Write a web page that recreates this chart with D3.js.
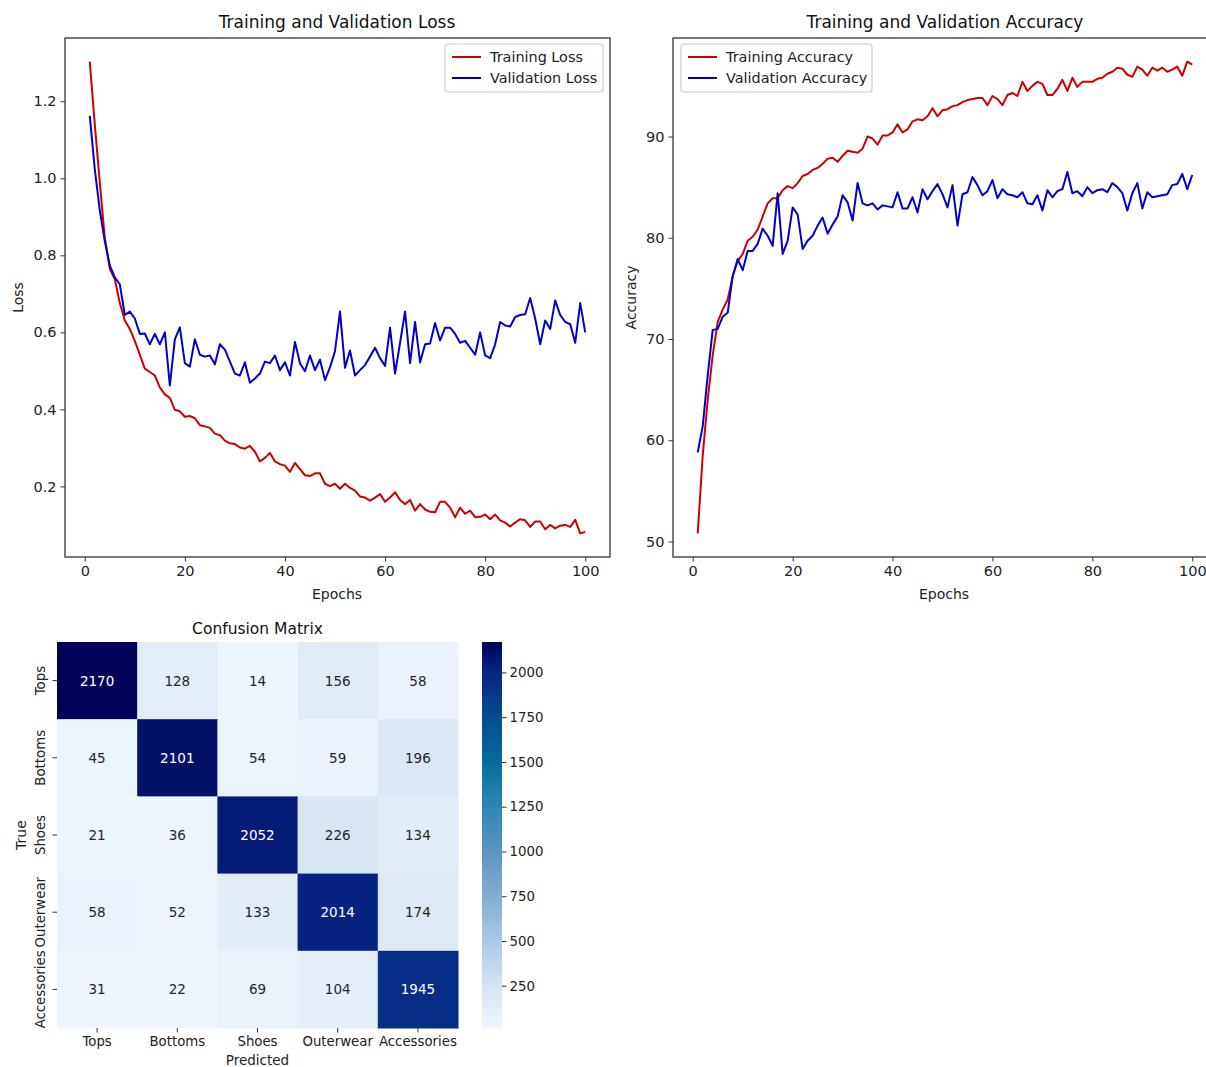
<!DOCTYPE html>
<html>
<head>
<meta charset="utf-8">
<script src="https://cdn.jsdelivr.net/npm/d3@7"></script>
<style>
  body { margin: 0; background: #fff; }
  svg { display: block; font-family: "DejaVu Sans", sans-serif; }
  .tick text { font-family: "DejaVu Sans", sans-serif; font-size: 14.5px; fill: #222; }
  .hm .tick text { font-size: 13.3px; }
  .tick line { stroke: #333; }
  .domain { display: none; }
</style>
</head>
<body>
<div id="chart"></div>
<script>
// ---- data ----
var trainLoss = [1.303, 1.14, 0.99, 0.845, 0.765, 0.738, 0.676, 0.631, 0.609, 0.578,
  0.542, 0.506, 0.497, 0.488, 0.457, 0.439, 0.430, 0.399, 0.395, 0.381,
  0.383, 0.377, 0.359, 0.356, 0.352, 0.337, 0.333, 0.319, 0.312, 0.310,
  0.301, 0.298, 0.305, 0.290, 0.265, 0.274, 0.287, 0.265, 0.258, 0.254,
  0.238, 0.261, 0.245, 0.229, 0.227, 0.234, 0.234, 0.207, 0.201, 0.207,
  0.194, 0.207, 0.196, 0.189, 0.174, 0.171, 0.163, 0.171, 0.180, 0.160,
  0.171, 0.185, 0.165, 0.154, 0.165, 0.137, 0.154, 0.140, 0.134, 0.133,
  0.160, 0.160, 0.145, 0.120, 0.145, 0.129, 0.137, 0.120, 0.121, 0.127,
  0.115, 0.127, 0.112, 0.106, 0.096, 0.106, 0.115, 0.112, 0.095, 0.109,
  0.109, 0.089, 0.100, 0.091, 0.098, 0.100, 0.095, 0.113, 0.078, 0.082];

var valLoss = [1.162, 1.024, 0.917, 0.837, 0.774, 0.743, 0.725, 0.645, 0.654, 0.636,
  0.596, 0.597, 0.569, 0.596, 0.569, 0.600, 0.462, 0.582, 0.613, 0.520,
  0.511, 0.582, 0.542, 0.537, 0.540, 0.517, 0.569, 0.555, 0.524, 0.493,
  0.488, 0.522, 0.469, 0.480, 0.493, 0.524, 0.520, 0.540, 0.502, 0.522,
  0.488, 0.575, 0.520, 0.499, 0.540, 0.502, 0.529, 0.476, 0.509, 0.551,
  0.654, 0.508, 0.553, 0.488, 0.502, 0.515, 0.537, 0.560, 0.533, 0.513,
  0.612, 0.493, 0.573, 0.654, 0.520, 0.627, 0.522, 0.569, 0.571, 0.624,
  0.579, 0.612, 0.612, 0.596, 0.573, 0.578, 0.560, 0.542, 0.600, 0.540,
  0.533, 0.569, 0.627, 0.618, 0.615, 0.640, 0.645, 0.647, 0.689, 0.636,
  0.569, 0.631, 0.609, 0.683, 0.645, 0.627, 0.621, 0.573, 0.676, 0.600];

var trainAcc = [50.8, 58.5, 64.0, 68.4, 71.7, 72.9, 73.9, 76.2, 77.7, 78.4,
  79.7, 80.1, 80.8, 82.1, 83.4, 83.9, 83.9, 84.7, 85.1, 84.9,
  85.4, 86.1, 86.3, 86.7, 86.9, 87.3, 87.8, 87.9, 87.5, 88.1,
  88.6, 88.5, 88.4, 88.8, 90.0, 89.8, 89.2, 90.1, 90.1, 90.4,
  91.2, 90.4, 90.7, 91.5, 91.7, 91.6, 92.0, 92.8, 92.0, 92.6,
  92.7, 93.0, 93.1, 93.4, 93.6, 93.7, 93.8, 93.8, 93.1, 94.0,
  93.7, 93.1, 94.1, 94.3, 94.0, 95.4, 94.5, 95.0, 95.4, 95.2,
  94.1, 94.1, 94.7, 95.6, 94.5, 95.8, 94.9, 95.4, 95.4, 95.4,
  95.7, 95.8, 96.2, 96.4, 96.8, 96.7, 96.1, 95.9, 96.9, 96.6,
  96.0, 96.8, 96.5, 96.8, 96.4, 96.6, 96.9, 96.0, 97.4, 97.1];

var valAcc = [58.8, 61.4, 66.4, 70.9, 71.0, 72.2, 72.6, 76.2, 77.9, 76.8,
  78.7, 78.7, 79.4, 80.9, 80.2, 79.2, 84.4, 78.4, 79.7, 83.0,
  82.3, 78.9, 79.7, 80.2, 81.2, 82.0, 80.4, 81.3, 82.1, 84.2,
  83.5, 81.7, 85.4, 83.4, 83.2, 83.4, 82.8, 83.2, 83.1, 83.0,
  84.5, 82.9, 82.9, 84.0, 82.5, 84.8, 83.8, 84.6, 85.3, 84.3,
  83.0, 85.2, 81.2, 84.3, 84.5, 86.0, 85.2, 84.2, 84.6, 85.7,
  83.9, 84.8, 84.3, 84.2, 84.0, 84.5, 83.4, 83.3, 84.2, 82.7,
  84.7, 84.0, 84.6, 84.8, 86.5, 84.4, 84.6, 84.1, 85.0, 84.4,
  84.7, 84.8, 84.5, 85.4, 85.0, 84.4, 82.7, 84.4, 85.4, 82.9,
  84.5, 84.0, 84.1, 84.2, 84.3, 85.2, 85.3, 86.3, 84.8, 86.2];

var epochTicks = [0, 20, 40, 60, 80, 100];
var lossTicks = [0.2, 0.4, 0.6, 0.8, 1.0, 1.2];
var accTicks = [50, 60, 70, 80, 90];

var classes = ["Tops", "Bottoms", "Shoes", "Outerwear", "Accessories"];
var matrix = [
  [2170, 128, 14, 156, 58],
  [45, 2101, 54, 59, 196],
  [21, 36, 2052, 226, 134],
  [58, 52, 133, 2014, 174],
  [31, 22, 69, 104, 1945]
];
var cbarTicks = [250, 500, 750, 1000, 1250, 1500, 1750, 2000];

var RED = "#cc0000", BLUE = "#0000c8";

var svg = d3.select("#chart").append("svg")
  .attr("width", 1206)
  .attr("height", 1067);

// pad like matplotlib: 5% of data range on each side
function padded(vals) {
  var lo = d3.min(vals), hi = d3.max(vals), m = (hi - lo) * 0.05;
  return [lo - m, hi + m];
}

function lineChart(opt) {
  var epochs = d3.range(1, opt.a.length + 1);
  var x = d3.scaleLinear().domain(padded(epochs)).range([opt.left, opt.right]);
  var y = d3.scaleLinear().domain(padded(opt.a.concat(opt.b))).range([opt.bottom, opt.top]);

  var g = svg.append("g");

  g.append("g")
    .attr("transform", "translate(0," + opt.bottom + ")")
    .call(d3.axisBottom(x).tickValues(epochTicks).tickSize(4.5).tickPadding(4));

  g.append("g")
    .attr("transform", "translate(" + opt.left + ",0)")
    .call(d3.axisLeft(y).tickValues(opt.yTicks).tickFormat(opt.fmt).tickSize(4.5).tickPadding(4));

  var line = d3.line()
    .x(function(d, i) { return x(i + 1); })
    .y(function(d) { return y(d); });

  g.append("path").datum(opt.a)
    .attr("d", line).attr("fill", "none")
    .attr("stroke", RED).attr("stroke-width", 2).attr("stroke-linejoin", "round");
  g.append("path").datum(opt.b)
    .attr("d", line).attr("fill", "none")
    .attr("stroke", BLUE).attr("stroke-width", 2).attr("stroke-linejoin", "round");

  // frame
  g.append("rect")
    .attr("x", opt.left).attr("y", opt.top)
    .attr("width", opt.right - opt.left).attr("height", opt.bottom - opt.top)
    .attr("fill", "none").attr("stroke", "#333").attr("stroke-width", 1.3);

  // titles
  g.append("text")
    .attr("x", opt.titleX).attr("y", 28)
    .attr("text-anchor", "middle").attr("font-size", 17).attr("fill", "#111")
    .text(opt.title);
  g.append("text")
    .attr("x", opt.xLabelX).attr("y", 599)
    .attr("text-anchor", "middle").attr("font-size", 14).attr("fill", "#222")
    .text("Epochs");
  g.append("text")
    .attr("transform", "translate(" + opt.yLabelX + "," + ((opt.top + opt.bottom) / 2) + ") rotate(-90)")
    .attr("text-anchor", "middle").attr("font-size", 14).attr("fill", "#222")
    .text(opt.yLabel);

  // legend
  var lg = g.append("g").attr("transform", "translate(" + opt.legX + ",44)");
  lg.append("rect")
    .attr("width", opt.legW).attr("height", 48).attr("rx", 3)
    .attr("fill", "#fff").attr("fill-opacity", 0.8)
    .attr("stroke", "#ccc").attr("stroke-width", 1.2);
  [[opt.names[0], RED], [opt.names[1], BLUE]].forEach(function(d, i) {
    var yy = 13 + i * 21;
    lg.append("line")
      .attr("x1", 7).attr("x2", 36).attr("y1", yy).attr("y2", yy)
      .attr("stroke", d[1]).attr("stroke-width", 2);
    lg.append("text")
      .attr("x", 45).attr("y", yy + 5)
      .attr("font-size", 14.4).attr("fill", "#222")
      .text(d[0]);
  });
}

lineChart({
  a: trainLoss, b: valLoss,
  left: 65, right: 610, top: 38, bottom: 557,
  yTicks: lossTicks, fmt: d3.format(".1f"),
  title: "Training and Validation Loss", titleX: 337,
  xLabelX: 337, yLabel: "Loss", yLabelX: 23,
  legX: 445, legW: 158, names: ["Training Loss", "Validation Loss"]
});

lineChart({
  a: trainAcc, b: valAcc,
  left: 673, right: 1217, top: 38, bottom: 557,
  yTicks: accTicks, fmt: d3.format("d"),
  title: "Training and Validation Accuracy", titleX: 945,
  xLabelX: 944, yLabel: "Accuracy", yLabelX: 636,
  legX: 681, legW: 191, names: ["Training Accuracy", "Validation Accuracy"]
});

// ---- confusion matrix ----
var hm = { left: 57, right: 458, top: 642, bottom: 1028 };
var flat = [].concat.apply([], matrix);
var vmin = d3.min(flat), vmax = d3.max(flat);

var color = d3.scaleLinear()
  .domain([vmin, 250, 500, 750, 1000, 1250, 1500, 1750, 2000, vmax])
  .range(["#f0f6fd", "#d5e3f2", "#abc9e4", "#86acd2", "#5c93c2", "#2f86b6",
          "#066c9c", "#054b90", "#062683", "#020358"])
  .interpolate(d3.interpolateRgb);

var cx = d3.scaleBand().domain(classes).range([hm.left, hm.right]);
var cy = d3.scaleBand().domain(classes).range([hm.top, hm.bottom]);

var cells = [];
matrix.forEach(function(row, i) {
  row.forEach(function(v, j) { cells.push({ r: classes[i], c: classes[j], v: v }); });
});

var hg = svg.append("g").attr("class", "hm");
hg.selectAll("rect.cell").data(cells).enter().append("rect")
  .attr("class", "cell")
  .attr("x", function(d) { return cx(d.c); })
  .attr("y", function(d) { return cy(d.r); })
  .attr("width", cx.bandwidth() + 0.5)
  .attr("height", cy.bandwidth() + 0.5)
  .attr("fill", function(d) { return color(d.v); });

var mid = (vmin + vmax) / 2;
hg.selectAll("text.ann").data(cells).enter().append("text")
  .attr("class", "ann")
  .attr("x", function(d) { return cx(d.c) + cx.bandwidth() / 2; })
  .attr("y", function(d) { return cy(d.r) + cy.bandwidth() / 2 + 5; })
  .attr("text-anchor", "middle").attr("font-size", 13.5)
  .attr("fill", function(d) { return d.v > mid ? "#fff" : "#262626"; })
  .text(function(d) { return d.v; });

hg.append("g")
  .attr("transform", "translate(0," + hm.bottom + ")")
  .call(d3.axisBottom(cx).tickSize(4.5).tickPadding(4));

var yAx = hg.append("g")
  .attr("transform", "translate(" + hm.left + ",0)")
  .call(d3.axisLeft(cy).tickSize(4.5).tickPadding(3));
yAx.selectAll(".tick text")
  .attr("transform", "rotate(-90)")
  .attr("x", 0).attr("y", -12)
  .attr("dy", 0)
  .attr("text-anchor", "middle");

hg.append("text")
  .attr("x", (hm.left + hm.right) / 2).attr("y", 634)
  .attr("text-anchor", "middle").attr("font-size", 15.5).attr("fill", "#111")
  .text("Confusion Matrix");
hg.append("text")
  .attr("x", (hm.left + hm.right) / 2).attr("y", 1065)
  .attr("text-anchor", "middle").attr("font-size", 13.5).attr("fill", "#222")
  .text("Predicted");
hg.append("text")
  .attr("transform", "translate(26," + ((hm.top + hm.bottom) / 2) + ") rotate(-90)")
  .attr("text-anchor", "middle").attr("font-size", 14).attr("fill", "#222")
  .text("True");

// colorbar
var cb = { left: 482, width: 20 };
var cby = d3.scaleLinear().domain([vmin, vmax]).range([hm.bottom, hm.top]);
var steps = d3.range(hm.top, hm.bottom, 1);
hg.selectAll("rect.cb").data(steps).enter().append("rect")
  .attr("class", "cb")
  .attr("x", cb.left).attr("y", function(d) { return d; })
  .attr("width", cb.width).attr("height", 1.5)
  .attr("fill", function(d) { return color(cby.invert(d + 0.5)); });

hg.append("g")
  .attr("transform", "translate(" + (cb.left + cb.width) + ",0)")
  .call(d3.axisRight(cby).tickValues(cbarTicks).tickFormat(d3.format("d")).tickSize(4.5).tickPadding(3));
</script>
</body>
</html>
